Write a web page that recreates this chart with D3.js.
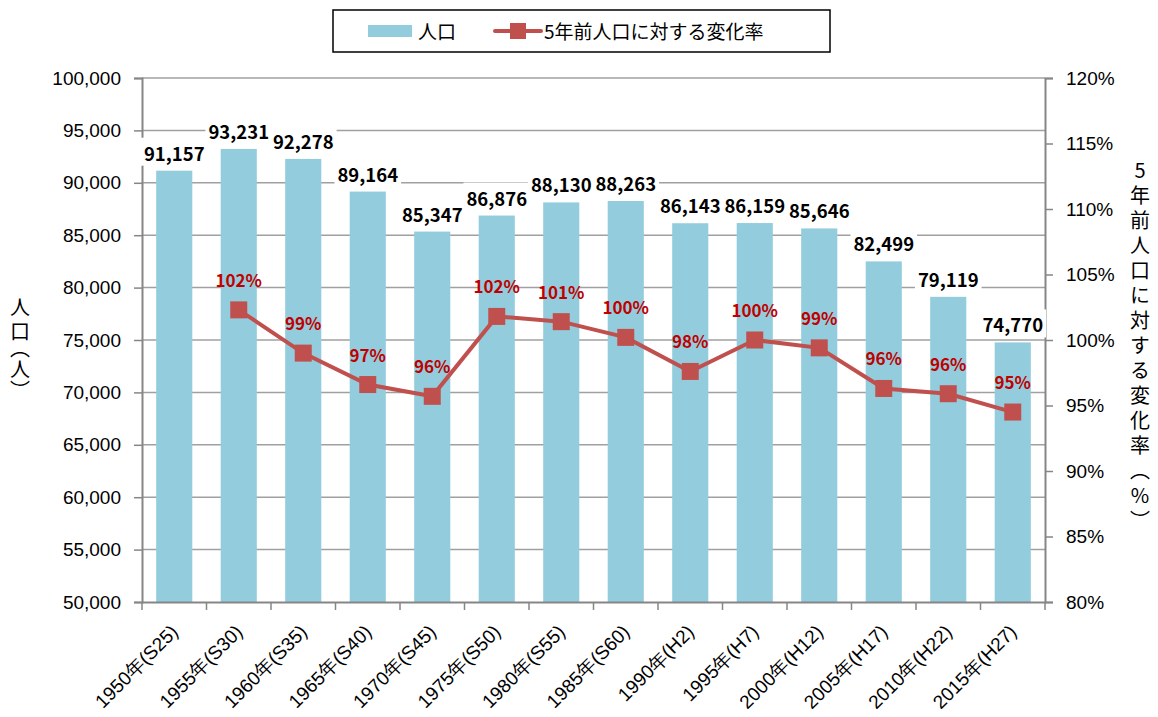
<!DOCTYPE html>
<html>
<head>
<meta charset="utf-8">
<script src="https://cdn.jsdelivr.net/npm/d3@7"></script>
<style>
  body { margin: 0; background: #fff; }
  svg { font-family: "Noto Sans CJK JP", "Noto Sans", sans-serif; }
</style>
</head>
<body>
<svg id="chart"></svg>
<script>
// data
const years = ["1950年(S25)", "1955年(S30)", "1960年(S35)", "1965年(S40)", "1970年(S45)",
  "1975年(S50)", "1980年(S55)", "1985年(S60)", "1990年(H2)", "1995年(H7)",
  "2000年(H12)", "2005年(H17)", "2010年(H22)", "2015年(H27)"];
const population = [91157, 93231, 92278, 89164, 85347, 86876, 88130, 88263, 86143, 86159, 85646, 82499, 79119, 74770];
// change rate vs 5 years before (%), first year has none
const changeRate = [null, 102.3, 99.0, 96.6, 95.7, 101.8, 101.4, 100.2, 97.6, 100.0, 99.4, 96.3, 95.9, 94.5];
const leftTicks = [50000, 55000, 60000, 65000, 70000, 75000, 80000, 85000, 90000, 95000, 100000];
const rightTicks = [80, 85, 90, 95, 100, 105, 110, 115, 120];

const W = 1158, H = 717;
const margin = { top: 78, right: 113, bottom: 115, left: 142 };
const width = W - margin.left - margin.right,
  height = H - margin.top - margin.bottom;

const svg = d3.select("#chart").attr("width", W).attr("height", H);
const g = svg.append("g").attr("transform", `translate(${margin.left},${margin.top})`);

const x = d3.scaleBand().domain(years).range([0, width]).paddingInner(0.44).paddingOuter(0.22);
const xc = d3.scaleBand().domain(years).range([0, width]);
const y = d3.scaleLinear().domain([50000, 100000]).range([height, 0]);
const y2 = d3.scaleLinear().domain([80, 120]).range([height, 0]);

const axisColor = "#868686";

// grid
g.append("g")
  .selectAll("line")
  .data(leftTicks.slice(1))
  .join("line")
  .attr("x1", 0).attr("x2", width)
  .attr("y1", d => y(d)).attr("y2", d => y(d))
  .attr("stroke", "#a0a0a0").attr("stroke-width", 1.5);

// bars
g.append("g")
  .selectAll("rect")
  .data(population)
  .join("rect")
  .attr("x", (d, i) => x(years[i]))
  .attr("width", x.bandwidth())
  .attr("y", d => y(d))
  .attr("height", d => height - y(d))
  .attr("fill", "#93CDDD");

// left axis
const la = g.append("g")
  .call(d3.axisLeft(y).tickValues(leftTicks).tickSize(8).tickPadding(13).tickFormat(d3.format(",")));
la.selectAll("text").attr("font-size", 19).attr("fill", "#000");

// right axis
const ra = g.append("g").attr("transform", `translate(${width},0)`)
  .call(d3.axisRight(y2).tickValues(rightTicks).tickSize(8).tickPadding(13).tickFormat(d => d + "%"));
ra.selectAll("text").attr("font-size", 19).attr("fill", "#000");

// bottom axis
const ba = g.append("g").attr("transform", `translate(0,${height})`)
  .call(d3.axisBottom(xc).tickSize(0).tickPadding(0));
ba.selectAll("text")
  .attr("font-size", 19)
  .attr("fill", "#000")
  .attr("text-anchor", "end")
  .attr("dy", 0)
  .attr("transform", "translate(5,31) rotate(-45)");
// boundary ticks
ba.append("g")
  .selectAll("line")
  .data(d3.range(years.length + 1))
  .join("line")
  .attr("x1", i => i * xc.step()).attr("x2", i => i * xc.step())
  .attr("y1", 0).attr("y2", 8)
  .attr("stroke", axisColor).attr("stroke-width", 1.5);

[la, ra, ba].forEach(a => {
  a.select(".domain").attr("stroke", axisColor).attr("stroke-width", 2);
  a.selectAll(".tick line").attr("stroke", axisColor).attr("stroke-width", 1.5);
});

// bar labels with white background
const bl = g.append("g").selectAll("g")
  .data(population)
  .join("g")
  .attr("transform", (d, i) => `translate(${x(years[i]) + x.bandwidth() / 2},${y(d) - 10})`);
bl.append("text")
  .attr("text-anchor", "middle")
  .attr("font-size", 18.5)
  .attr("font-weight", "bold")
  .attr("fill", "#000")
  .text(d => d3.format(",")(d))
  .each(function () {
    const b = this.getBBox();
    d3.select(this.parentNode).insert("rect", "text")
      .attr("x", b.x - 3).attr("y", b.y - 2)
      .attr("width", b.width + 6).attr("height", b.height + 2)
      .attr("fill", "#fff");
  });

// line
const pts = changeRate.map((v, i) => ({ v, i })).filter(d => d.v !== null);
const line = d3.line()
  .x(d => x(years[d.i]) + x.bandwidth() / 2)
  .y(d => y2(d.v));
g.append("path")
  .datum(pts)
  .attr("fill", "none")
  .attr("stroke", "#C0504D")
  .attr("stroke-width", 4)
  .attr("d", line);
g.append("g").selectAll("rect")
  .data(pts)
  .join("rect")
  .attr("x", d => x(years[d.i]) + x.bandwidth() / 2 - 8.5)
  .attr("y", d => y2(d.v) - 8.5)
  .attr("width", 17).attr("height", 17)
  .attr("fill", "#C0504D");
g.append("g").selectAll("text")
  .data(pts)
  .join("text")
  .attr("x", d => x(years[d.i]) + x.bandwidth() / 2)
  .attr("y", d => y2(d.v) - 23)
  .attr("text-anchor", "middle")
  .attr("font-size", 17)
  .attr("font-weight", "bold")
  .attr("fill", "#C00000")
  .text(d => Math.round(d.v) + "%");

// left axis title, stacked characters
const leftTitle = [["人", 306], ["口", 330], ["︵", 347], ["人", 368], ["︶", 389]];
svg.append("g").selectAll("text")
  .data(leftTitle)
  .join("text")
  .attr("x", 20).attr("y", d => d[1])
  .attr("text-anchor", "middle")
  .attr("dominant-baseline", "central")
  .attr("font-size", 20)
  .attr("fill", "#000")
  .text(d => d[0]);

// right axis title
svg.append("text")
  .attr("x", 1140).attr("y", 160)
  .attr("font-size", 20)
  .attr("fill", "#000")
  .style("writing-mode", "vertical-rl")
  .style("text-orientation", "upright")
  .attr("letter-spacing", 5)
  .text("5年前人口に対する変化率（%）");

// legend
const lg = svg.append("g");
lg.append("rect")
  .attr("x", 333).attr("y", 10).attr("width", 497).attr("height", 42)
  .attr("fill", "#fff").attr("stroke", "#000").attr("stroke-width", 1.5);
lg.append("rect")
  .attr("x", 368).attr("y", 25).attr("width", 44).attr("height", 12)
  .attr("fill", "#93CDDD");
lg.append("text")
  .attr("x", 418).attr("y", 38.5)
  .attr("font-size", 19).attr("fill", "#000")
  .text("人口");
lg.append("line")
  .attr("x1", 495).attr("x2", 541).attr("y1", 31).attr("y2", 31)
  .attr("stroke", "#C0504D").attr("stroke-width", 4).attr("stroke-linecap", "round");
lg.append("rect")
  .attr("x", 510).attr("y", 23).attr("width", 16).attr("height", 16)
  .attr("fill", "#C0504D");
lg.append("text")
  .attr("x", 544).attr("y", 38.5)
  .attr("font-size", 19).attr("fill", "#000")
  .text("5年前人口に対する変化率");
</script>
</body>
</html>
